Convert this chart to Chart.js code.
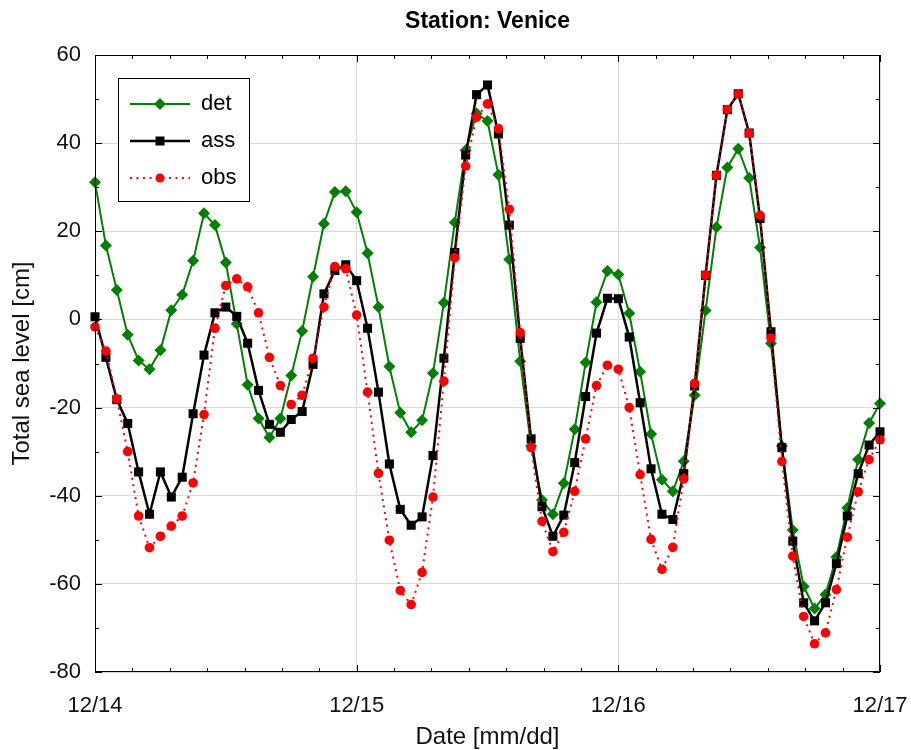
<!DOCTYPE html>
<html>
<head>
<meta charset="utf-8">
<title>Station: Venice</title>
<script src="https://cdn.jsdelivr.net/npm/chart.js@4.4.1/dist/chart.umd.min.js"></script>
<style>
  html, body { margin: 0; padding: 0; background: #fff; }
</style>
</head>
<body>
<canvas id="chart" width="911" height="750"></canvas>
<script>
// hourly samples, 12/14 00:00 .. 12/17 00:00
const dayLabels = ['12/14', '12/15', '12/16', '12/17'];

const det = [
  31.1, 16.8, 6.7, -3.5, -9.3, -11.3, -7.0, 2.1, 5.6, 13.3, 24.1, 21.4,
  12.9, -1.0, -14.8, -22.5, -26.8, -22.5, -12.7, -2.6, 9.7, 21.7, 28.9, 29.1,
  24.3, 15.0, 2.8, -10.7, -21.2, -25.6, -22.9, -12.2, 3.8, 22.0, 38.4, 46.7,
  45.0, 32.8, 13.6, -9.5, -28.7, -41.0, -44.2, -37.2, -24.9, -9.8, 3.9, 11.0,
  10.2, 1.4, -11.9, -26.0, -36.4, -39.0, -32.2, -17.2, 2.0, 20.9, 34.5, 38.7,
  32.1, 16.3, -5.4, -28.7, -47.8, -60.6, -65.6, -62.4, -53.9, -42.8, -31.8, -23.5,
  -19.1
];

const ass = [
  0.6, -8.6, -18.2, -23.6, -34.6, -44.2, -34.6, -40.3, -35.8, -21.4, -8.1, 1.5,
  2.8, 0.7, -5.4, -16.1, -23.8, -25.6, -22.7, -20.9, -10.2, 5.8, 11.1, 12.4,
  8.8, -2.0, -16.5, -32.8, -43.1, -46.7, -44.8, -30.9, -8.8, 15.2, 37.3, 51.0,
  53.2, 42.1, 21.4, -4.3, -27.1, -42.5, -49.2, -44.4, -32.5, -17.5, -3.1, 4.8,
  4.7, -4.0, -18.9, -33.9, -44.2, -45.4, -35.0, -15.1, 10.0, 32.7, 47.6, 51.2,
  42.3, 22.9, -2.8, -29.1, -50.3, -64.3, -68.4, -64.3, -55.4, -44.6, -35.0, -28.5,
  -25.5
];

const obs = [
  -1.7, -7.2, -18.0, -30.0, -44.6, -51.8, -49.2, -46.9, -44.6, -37.1, -21.6, -2.0,
  7.7, 9.2, 7.4, 1.5, -8.6, -15.0, -19.3, -17.2, -8.8, 2.8, 12.0, 11.5,
  1.0, -16.5, -34.9, -50.1, -61.5, -64.7, -57.4, -40.3, -14.0, 14.0, 34.8, 45.9,
  48.9, 43.3, 25.0, -3.0, -29.1, -45.8, -52.7, -48.3, -39.0, -27.1, -15.0, -10.4,
  -11.3, -20.0, -35.2, -49.9, -56.7, -51.7, -36.2, -14.5, 10.1, 32.7, 47.6, 51.2,
  42.2, 23.6, -4.2, -32.2, -53.7, -67.4, -73.6, -71.1, -61.3, -49.4, -39.1, -31.8,
  -27.3
];

const FONT = "'Liberation Sans', Arial, Helvetica, sans-serif";
const GREEN = '#008000';
const RED = '#ff0000';

// turn a series into {x: hour, y: value}
function toPoints(arr) {
  return arr.map((v, i) => ({ x: i, y: v }));
}

// box around the plot + inward ticks on all four sides
const framePlugin = {
  id: 'frame',
  afterDatasetsDraw(chart) {
    const { ctx, chartArea: a, scales } = chart;
    const x = scales.x, y = scales.y;
    ctx.save();
    ctx.strokeStyle = '#000';
    ctx.lineWidth = 1;
    ctx.beginPath();
    // x ticks: major each day, 7 minor steps per day
    for (let k = 0; k <= 21; k++) {
      const px = Math.round(x.getPixelForValue(k * 24 / 7)) + 0.5;
      const len = (k % 7 === 0) ? 7 : 4;
      ctx.moveTo(px, a.bottom); ctx.lineTo(px, a.bottom - len);
      ctx.moveTo(px, a.top); ctx.lineTo(px, a.top + len);
    }
    // y ticks: major every 20, minor every 10
    for (let v = -80; v <= 60; v += 10) {
      const py = Math.round(y.getPixelForValue(v)) + 0.5;
      const len = (v % 20 === 0) ? 7 : 4;
      ctx.moveTo(a.left, py); ctx.lineTo(a.left + len, py);
      ctx.moveTo(a.right, py); ctx.lineTo(a.right - len, py);
    }
    ctx.stroke();
    ctx.strokeRect(Math.round(a.left) + 0.5, Math.round(a.top) + 0.5,
      Math.round(a.width) - 1, Math.round(a.height) - 1);
    ctx.restore();
  }
};

function drawMarker(ctx, style, cx, cy, color) {
  ctx.fillStyle = color;
  ctx.beginPath();
  if (style === 'diamond') {
    ctx.moveTo(cx, cy - 6); ctx.lineTo(cx + 6, cy);
    ctx.lineTo(cx, cy + 6); ctx.lineTo(cx - 6, cy);
    ctx.closePath();
  } else if (style === 'square') {
    ctx.rect(cx - 4.5, cy - 4.5, 9, 9);
  } else {
    ctx.arc(cx, cy, 4.5, 0, Math.PI * 2);
  }
  ctx.fill();
}

// legend box in the upper left of the plot
const legendPlugin = {
  id: 'boxLegend',
  afterDraw(chart) {
    const { ctx, chartArea: a } = chart;
    const entries = [
      { label: 'det', color: GREEN, width: 2, dash: [], marker: 'diamond' },
      { label: 'ass', color: '#000', width: 2.5, dash: [], marker: 'square' },
      { label: 'obs', color: RED, width: 2, dash: [2, 4.5], marker: 'circle' }
    ];
    const bx = a.left + 23, by = a.top + 23, bw = 131, bh = 123;
    ctx.save();
    ctx.fillStyle = '#fff';
    ctx.fillRect(bx, by, bw, bh);
    ctx.strokeStyle = '#000';
    ctx.lineWidth = 1;
    ctx.strokeRect(bx + 0.5, by + 0.5, bw, bh);
    ctx.font = '22px ' + FONT;
    ctx.textBaseline = 'middle';
    entries.forEach((e, i) => {
      const ry = by + 26 + i * 37;
      ctx.strokeStyle = e.color;
      ctx.lineWidth = e.width;
      ctx.setLineDash(e.dash);
      ctx.beginPath();
      ctx.moveTo(bx + 12, ry); ctx.lineTo(bx + 72, ry);
      ctx.stroke();
      ctx.setLineDash([]);
      drawMarker(ctx, e.marker, bx + 42, ry, e.color);
      ctx.fillStyle = '#000';
      ctx.fillText(e.label, bx + 83, ry);
    });
    ctx.restore();
  }
};

const ctx = document.getElementById('chart').getContext('2d');
const seaChart = new Chart(ctx, {
  type: 'line',
  data: {
    datasets: [
      {
        label: 'det',
        data: toPoints(det),
        borderColor: GREEN,
        backgroundColor: GREEN,
        borderWidth: 2,
        pointStyle: 'rectRot',
        pointRadius: 6,
        pointBorderWidth: 0,
        order: 3,
        clip: false
      },
      {
        label: 'ass',
        data: toPoints(ass),
        borderColor: '#000',
        backgroundColor: '#000',
        borderWidth: 2.5,
        pointStyle: 'rect',
        pointRadius: 6.4,
        pointBorderWidth: 0,
        order: 2,
        clip: false
      },
      {
        label: 'obs',
        data: toPoints(obs),
        borderColor: RED,
        backgroundColor: RED,
        borderWidth: 2,
        borderDash: [2, 4.5],
        pointStyle: 'circle',
        pointRadius: 4.8,
        pointBorderWidth: 0,
        order: 1,
        clip: false
      }
    ]
  },
  options: {
    responsive: false,
    animation: false,
    devicePixelRatio: 1,
    layout: { padding: { left: 0, right: 31, top: 0, bottom: 0 } },
    elements: { line: { tension: 0, fill: false } },
    plugins: {
      legend: { display: false },
      tooltip: { enabled: false },
      title: {
        display: true,
        fullSize: false,
        text: 'Station: Venice',
        color: '#000',
        font: { family: FONT, size: 23, weight: 'bold' },
        padding: { top: 8, bottom: 19.4 }
      }
    },
    scales: {
      x: {
        type: 'linear',
        min: 0,
        max: 72,
        afterFit(scale) {
          scale.height = 78;
          // labels at the edges may overhang, don't shrink the plot for them
          scale.paddingLeft = 0;
          scale.paddingRight = 0;
        },
        grid: { color: '#d9d9d9', drawTicks: false },
        border: { display: false },
        ticks: {
          stepSize: 24,
          padding: 21,
          color: '#111',
          font: { family: FONT, size: 22 },
          maxRotation: 0,
          callback: (v) => dayLabels[v / 24]
        },
        title: {
          display: true,
          text: 'Date [mm/dd]',
          color: '#111',
          font: { family: FONT, size: 24 },
          padding: { top: 0, bottom: -2 }
        }
      },
      y: {
        min: -80,
        max: 60,
        afterFit(scale) { scale.width = 95; },
        grid: { color: '#d9d9d9', drawTicks: false },
        border: { display: false },
        ticks: {
          stepSize: 20,
          padding: 14,
          color: '#111',
          font: { family: FONT, size: 22 }
        },
        title: {
          display: true,
          text: 'Total sea level [cm]',
          color: '#111',
          font: { family: FONT, size: 24 },
          padding: { top: 8, bottom: 0 }
        }
      }
    }
  },
  plugins: [framePlugin, legendPlugin]
});
</script>
</body>
</html>
